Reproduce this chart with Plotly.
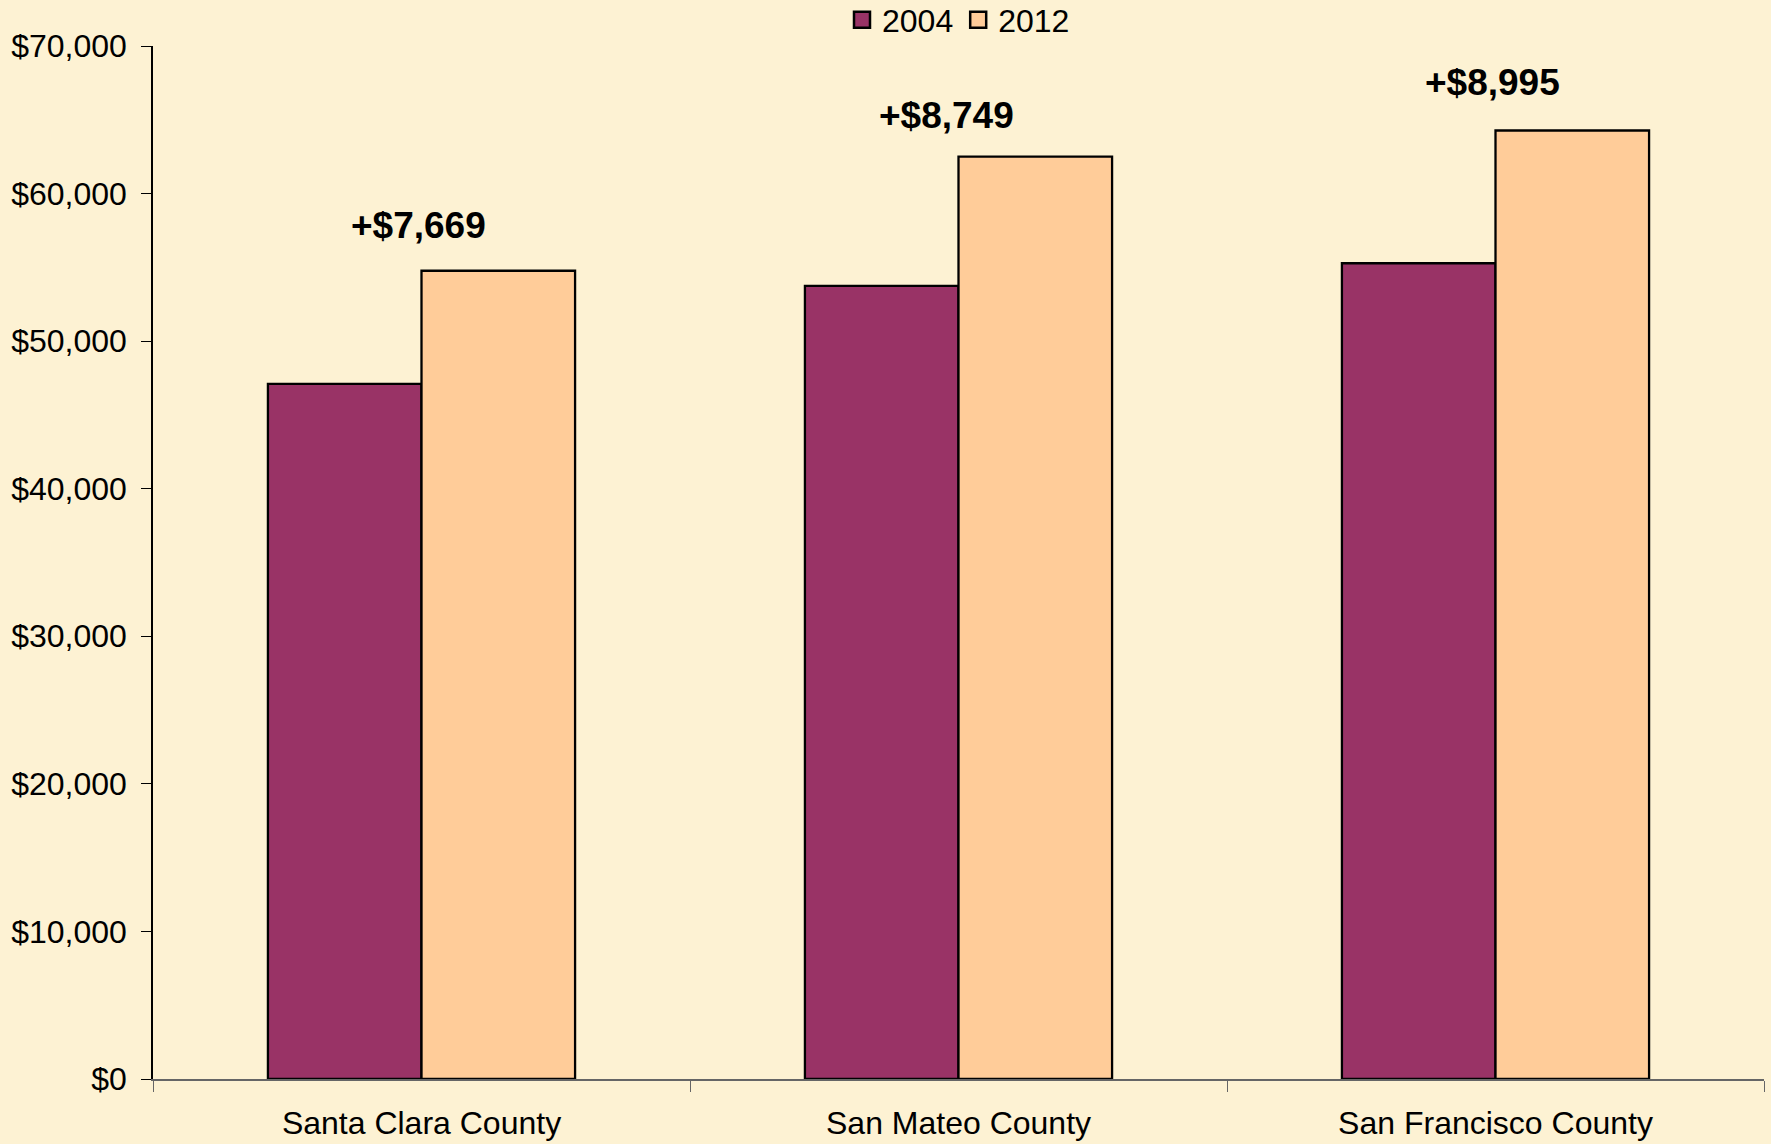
import plotly.graph_objects as go

counties = ["Santa Clara County", "San Mateo County", "San Francisco County"]
income_2004 = [47100, 53750, 55280]
income_2012 = [54769, 62499, 64275]
y_ticks = [0, 10000, 20000, 30000, 40000, 50000, 60000, 70000]
y_tick_labels = ["$0", "$10,000", "$20,000", "$30,000", "$40,000", "$50,000", "$60,000", "$70,000"]

font_family = "Liberation Sans, Arial, sans-serif"
colors = {"2004": "#993366", "2012": "#FFCC99"}
label_xshift = [-3, -12, -3]
label_yshift = [45, 41, 48]

fig = go.Figure()
fig.add_trace(go.Bar(x=counties, y=income_2004, name="2004", showlegend=False,
                     marker=dict(color=colors["2004"], line=dict(color="black", width=2.3))))
fig.add_trace(go.Bar(x=counties, y=income_2012, name="2012", showlegend=False,
                     marker=dict(color=colors["2012"], line=dict(color="black", width=2.3))))

# legend entries with larger square symbols
for name in ["2004", "2012"]:
    fig.add_trace(go.Scatter(x=[None], y=[None], mode="markers", name=name,
                             marker=dict(symbol="square", size=21, color=colors[name],
                                         line=dict(color="black", width=2.5))))

for c, a, b, xs, ys in zip(counties, income_2004, income_2012, label_xshift, label_yshift):
    fig.add_annotation(x=c, y=b, text="<b>+${:,}</b>".format(b - a), showarrow=False,
                       yanchor="middle", yshift=ys, xshift=xs,
                       font=dict(family=font_family, size=37, color="black"))

fig.update_layout(
    width=1771, height=1144,
    paper_bgcolor="#FDF2D3", plot_bgcolor="#FDF2D3",
    margin=dict(l=153, r=7, t=46, b=65, autoexpand=False),
    barmode="group", bargap=0.428, bargroupgap=0,
    font=dict(family=font_family, size=32, color="black"),
    showlegend=True,
    legend=dict(orientation="h", x=0.5, xanchor="center", xref="paper",
                y=1 - 20 / 1144, yanchor="middle", yref="container",
                font=dict(size=32), itemwidth=30, bgcolor="rgba(0,0,0,0)",
                itemsizing="trace"),
    xaxis=dict(showline=True, linecolor="#666666", linewidth=1.5, ticks="outside",
               tickson="boundaries", ticklen=11, tickcolor="#666666", showgrid=False,
               tickfont=dict(size=32), ticklabelstandoff=15),
    yaxis=dict(range=[0, 70000], tickvals=y_ticks, ticktext=y_tick_labels,
               showline=True, linecolor="black", linewidth=1.5, ticks="outside",
               ticklen=10, tickcolor="black", showgrid=False, zeroline=False,
               tickfont=dict(size=32), ticklabelstandoff=8),
)

fig.write_html("out.html", config={"displayModeBar": False},
               post_script="document.body.style.margin='0';")
